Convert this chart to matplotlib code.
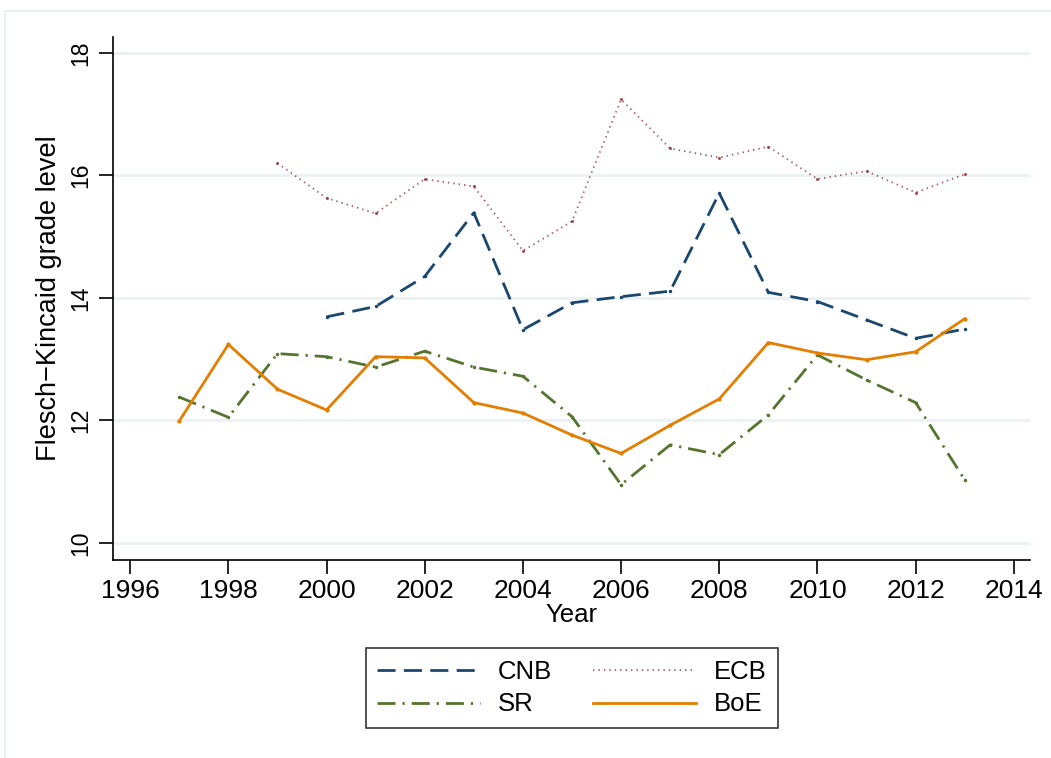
#!/usr/bin/env python3
import matplotlib
matplotlib.use('Agg')
import matplotlib.pyplot as plt
from matplotlib.patches import Rectangle

# Data
years_cnb = [2000, 2001, 2002, 2003, 2004, 2005, 2006, 2007, 2008, 2009, 2010, 2011, 2012, 2013]
cnb = [13.69, 13.86, 14.35, 15.39, 13.48, 13.92, 14.02, 14.11, 15.71, 14.09, 13.94, 13.64, 13.34, 13.49]

years_ecb = [1999, 2000, 2001, 2002, 2003, 2004, 2005, 2006, 2007, 2008, 2009, 2010, 2011, 2012, 2013]
ecb = [16.20, 15.63, 15.38, 15.94, 15.82, 14.77, 15.25, 17.24, 16.44, 16.29, 16.47, 15.94, 16.07, 15.72, 16.02]

years_sr = list(range(1997, 2014))
sr = [12.38, 12.05, 13.09, 13.04, 12.87, 13.13, 12.87, 12.72, 12.06, 10.95, 11.60, 11.44, 12.09, 13.07, 12.66, 12.29, 11.03]

years_boe = list(range(1997, 2014))
boe = [11.99, 13.24, 12.51, 12.17, 13.04, 13.02, 12.29, 12.12, 11.76, 11.46, 11.92, 12.35, 13.27, 13.10, 12.99, 13.12, 13.66]

xticks = list(range(1996, 2015, 2))
yticks = [10, 12, 14, 16, 18]

plt.rcParams['font.family'] = ['Liberation Sans', 'DejaVu Sans']

fig = plt.figure(figsize=(10.51, 7.58), dpi=100)
# light outer frame of the graph region
fig.patches.append(Rectangle((5/1051, -0.01), 1.01, 1 - 11/758 + 0.01, transform=fig.transFigure,
                             fill=False, edgecolor='#e6eeee', linewidth=1.2))
ax = fig.add_axes([113/1051, 1 - 560/758, (1030 - 113)/1051, (560 - 37)/758])

ax.plot(years_cnb, cnb, color='#1a476f', lw=2.0, dashes=(6.5, 3), marker='o', ms=1.5, label='CNB')
ax.plot(years_ecb, ecb, color='#90353b', lw=1.3, dashes=(0.8, 2.2), marker='o', ms=1.2, alpha=0.8, label='ECB')
ax.plot(years_sr, sr, color='#55752f', lw=2.0, dashes=(6.5, 2.5, 0.8, 2.5), marker='o', ms=1.5, label='SR')
ax.plot(years_boe, boe, color='#e37e00', lw=2.0, marker='o', ms=2.0, label='BoE')

ax.set_xlim(1995.65, 2014.33)
ax.set_ylim(9.72, 18.26)
ax.set_xticks(xticks)
ax.set_yticks(yticks)
ax.grid(axis='y', color='#eaf2f3', lw=2)
ax.set_axisbelow(True)
for s in ['top', 'right']:
    ax.spines[s].set_visible(False)
ax.spines['left'].set_linewidth(1.2)
ax.spines['bottom'].set_linewidth(1.2)
ax.tick_params(axis='both', direction='out', length=10, width=1.2)
ax.tick_params(axis='x', labelsize=19, pad=4)
ax.tick_params(axis='y', labelsize=16.5, pad=5)
for lab in ax.get_yticklabels():
    lab.set_rotation(90)
    lab.set_va('center')

ax.set_xlabel('Year', fontsize=18.5, labelpad=0)
ax.set_ylabel('Flesch\u2212Kincaid grade level', fontsize=19.5)
ax.yaxis.set_label_coords(-0.056, 0.5)

# legend entries: CNB, ECB / SR, BoE
h, l = ax.get_legend_handles_labels()
order = [0, 2, 1, 3]
leg = fig.legend([h[i] for i in order], [l[i] for i in order], loc='center',
                 bbox_to_anchor=(572/1051, 1 - 688/758), ncol=2, fontsize=18.5,
                 frameon=True, fancybox=False, edgecolor='black', handlelength=4.0,
                 columnspacing=1.6, handletextpad=0.7, borderpad=0.45, labelspacing=0.35)
leg.get_frame().set_linewidth(1.2)
for line in leg.get_lines():
    line.set_marker('')

fig.savefig('out.png', dpi=100)
